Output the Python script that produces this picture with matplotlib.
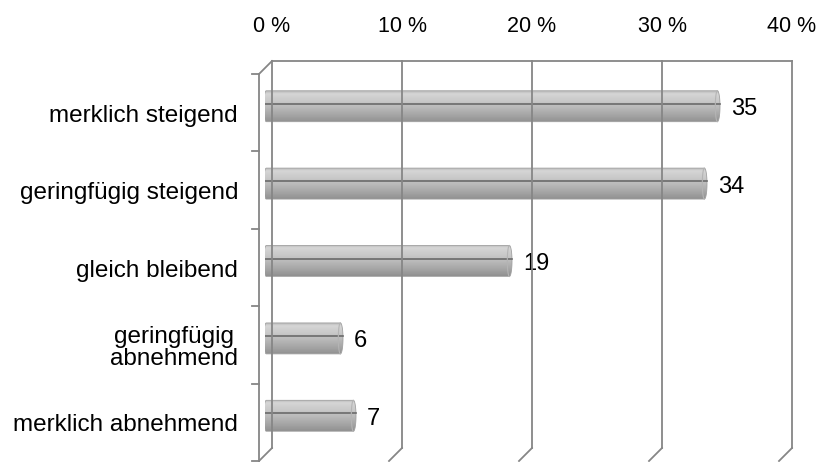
# -*- coding: utf-8 -*-
"""
3D-Zylinderbalken (Excel-Stil): Einschaetzung der Entwicklung.
"""
import numpy as np
import matplotlib
matplotlib.use('Agg')
import matplotlib.pyplot as plt
import matplotlib.transforms as mtransforms
from matplotlib.lines import Line2D
from matplotlib.path import Path
from matplotlib.patches import PathPatch

categories = ['merklich steigend', 'geringfügig steigend', 'gleich bleibend',
              'geringfügig\nabnehmend', 'merklich abnehmend']
values = [35, 34, 19, 6, 7]
xticks = [0, 10, 20, 30, 40]
xticklabels = ['0 %', '10 %', '20 %', '30 %', '40 %']

plt.rcParams['font.family'] = ['Liberation Sans', 'DejaVu Sans']

W, H = 821, 462
fig = plt.figure(figsize=(W / 100, H / 100), dpi=100)
# Mittlere Ebene (Lage der Zylinder) in Pixeln
ax = fig.add_axes([265 / W, (H - 454.5) / H, 520 / W, 387 / H])
ax.axis('off')
ylo, yhi = -0.5, len(categories) - 0.5
ax.set_xlim(0, 40)
ax.set_ylim(yhi, ylo)
ax.set_autoscale_on(False)

# Rueckwand und Vorderkante als verschobene Kopien der Datenkoordinaten
back = mtransforms.offset_copy(ax.transData, fig, x=7, y=6.5, units='dots')
front = mtransforms.offset_copy(ax.transData, fig, x=-6, y=-6.5, units='dots')

grid_kw = dict(color='#868686', lw=1.3, zorder=1)
ident = mtransforms.IdentityTransform()


def seg(p0, t0, p1, t1, **kw):
    """Linie zwischen zwei Punkten aus verschiedenen Ebenen."""
    a = t0.transform(p0)
    b = t1.transform(p1)
    fig.add_artist(Line2D([a[0], b[0]], [a[1], b[1]], transform=ident, **kw))


# Gitter der Rueckwand und Boden
for xt in xticks:
    seg((xt, ylo), back, (xt, yhi), back, **grid_kw)
    seg((xt, yhi), back, (xt, yhi), front, **grid_kw)
seg((0, ylo), back, (40, ylo), back, **grid_kw)
# Seitenwand links
seg((0, ylo), back, (0, ylo), front, **grid_kw)
seg((0, ylo), front, (0, yhi + 0.1), front, **grid_kw)
for k in range(len(categories) + 1):
    a = front.transform((0, ylo + k))
    fig.add_artist(Line2D([a[0] - 7, a[0]], [a[1], a[1]], transform=ident,
                          **grid_kw))

# Farbverlauf der Zylinder (oben hell, unten dunkel)
stops = [0.0, 0.08, 0.3, 0.55, 0.8, 1.0]
levels = [0.70, 0.82, 0.77, 0.69, 0.60, 0.52]
g = np.interp(np.linspace(0, 1, 64), stops, levels)
grad = np.dstack([g, g, g, np.full_like(g, 0.9)]).reshape(64, 1, 4)

h = 0.2     # halbe Zylinderhoehe
rx = 0.2    # Ellipsenradius der Enden
t = np.linspace(-np.pi / 2, np.pi / 2, 40)
for i, v in enumerate(values):
    x0, x1 = rx - 0.1, v - rx
    right = np.column_stack([x1 + rx * np.cos(t), i + h * np.sin(t)])
    left = np.column_stack([x0 - rx * np.cos(t), i - h * np.sin(t)])
    verts = np.vstack([right, left, right[:1]])
    patch = PathPatch(Path(verts, closed=True), facecolor='none',
                      edgecolor='#a0a0a0', lw=0.6, zorder=3)
    ax.add_patch(patch)
    im = ax.imshow(grad, extent=(x0 - rx, x1 + rx, i + h, i - h),
                   origin='upper', aspect='auto', zorder=2,
                   interpolation='bilinear')
    im.set_clip_path(patch)
    # Naht in der Zylindermitte
    ax.plot([0, v], [i - 0.03, i - 0.03], color='#6a6a6a', lw=1.2, zorder=4)
    # Endflaeche rechts
    e = np.linspace(np.pi / 2, 3 * np.pi / 2, 40)
    ax.plot(x1 + rx * np.cos(e) * 0.8, i + h * np.sin(e), color='#b4b4b4',
            lw=0.8, zorder=4)
    ax.annotate(str(v), xy=(v, i), xytext=(11, -3), textcoords='offset pixels',
                ha='left', va='center', fontsize=17, color='black')

# Achsenbeschriftung oben
for xt, lab in zip(xticks, xticklabels):
    ax.annotate(lab, xy=(xt, ylo), xycoords=back, xytext=(0, 34),
                textcoords='offset pixels', ha='center', va='center',
                fontsize=15.5, color='black')

# Kategorien links
for i, lab in enumerate(categories):
    ax.annotate(lab, xy=(0, i), xycoords=front, xytext=(-21, -3),
                textcoords='offset pixels', ha='right', va='center',
                multialignment='center', linespacing=1.0,
                fontsize=17.5, color='black')

ax.set_xlim(0, 40)
ax.set_ylim(yhi, ylo)

fig.savefig('out.png', dpi=100, facecolor='white')
